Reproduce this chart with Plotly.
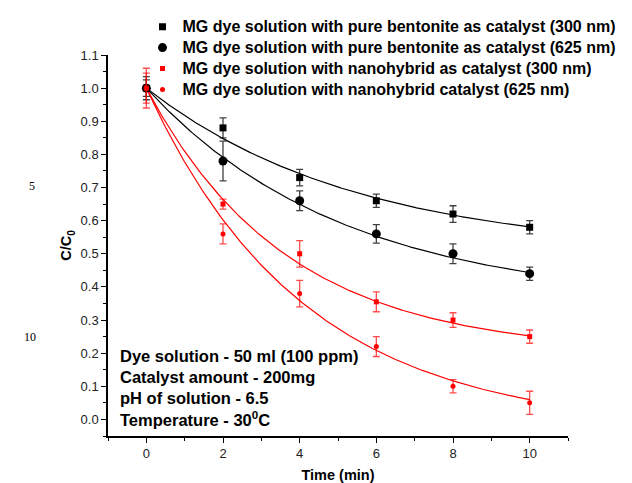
import numpy as np
import plotly.graph_objects as go

# Sampling times (min)
time_min = [0, 2, 4, 6, 8, 10]

# Normalised concentration C/C0 and error bars for each run
bent_300 = [1.00, 0.88, 0.73, 0.66, 0.62, 0.58]
bent_300_err = [0.035, 0.03, 0.025, 0.02, 0.025, 0.02]

bent_625 = [1.00, 0.78, 0.66, 0.56, 0.50, 0.44]
bent_625_err = [0.025, 0.06, 0.03, 0.028, 0.03, 0.02]

nano_300 = [1.00, 0.65, 0.50, 0.355, 0.30, 0.25]
nano_300_err = [0.06, 0.015, 0.04, 0.03, 0.022, 0.02]

nano_625 = [1.00, 0.56, 0.38, 0.22, 0.10, 0.05]
nano_625_err = [0.045, 0.03, 0.04, 0.03, 0.02, 0.035]

# First-order exponential decay fits: y = y0 + A*exp(-t/tau)
fit_y0 = [0.50, 0.35, 0.20, -0.03]
fit_A = [0.50, 0.65, 0.80, 1.03]
fit_tau = [5.5, 5.15, 3.67, 4.1]

legend_names = [
    "MG dye solution with pure bentonite as catalyst (300 nm)",
    "MG dye solution with pure bentonite as catalyst (625 nm)",
    "MG dye solution with nanohybrid as catalyst (300 nm)",
    "MG dye solution with nanohybrid catalyst (625 nm)",
]

conditions = [
    "Dye solution - 50 ml (100 ppm)",
    "Catalyst amount - 200mg",
    "pH of solution - 6.5",
    "Temperature - 30<sup>0</sup>C",
]

series = [bent_300, bent_625, nano_300, nano_625]
errors = [bent_300_err, bent_625_err, nano_300_err, nano_625_err]
colors = ["black", "black", "red", "red"]
err_colors = ["rgba(0,0,0,0.75)", "rgba(0,0,0,0.75)", "rgba(255,0,0,0.7)", "rgba(255,0,0,0.7)"]
symbols = ["square", "circle", "square", "circle"]
sizes = [7, 9, 5, 5]

FONT = "Liberation Sans, Arial, sans-serif"

fig = go.Figure()

t_fit = np.linspace(0, 10, 201)
for i in range(4):
    fig.add_trace(go.Scatter(
        x=t_fit, y=fit_y0[i] + fit_A[i] * np.exp(-t_fit / fit_tau[i]),
        mode="lines", line=dict(color=colors[i], width=1.2),
        showlegend=False, hoverinfo="skip",
    ))

for i in range(4):
    fig.add_trace(go.Scatter(
        x=time_min, y=series[i], mode="markers",
        # larger label text on a tighter legend row pitch
        name='<span style="font-size:16px">' + legend_names[i] + "</span>",
        marker=dict(symbol=symbols[i], size=sizes[i], color=colors[i]),
        error_y=dict(type="data", array=errors[i], visible=True,
                     color=err_colors[i], thickness=1.3, width=3.5),
    ))

axis_common = dict(
    showline=True, linecolor="black", linewidth=1.5,
    ticks="outside", ticklen=5, tickwidth=1.2, tickcolor="black",
    showgrid=False, zeroline=False, mirror=False,
    tickfont=dict(family=FONT, size=13, color="#222"),
)

fig.update_xaxes(
    range=[-1, 11], tickvals=[0, 2, 4, 6, 8, 10],
    minor=dict(tickvals=[-1, 1, 3, 5, 7, 9, 11], ticks="outside", ticklen=3,
               tickwidth=1.2, tickcolor="black"),
    title=dict(text="Time (min)", font=dict(family=FONT, size=14.5, color="black", weight="bold"),
               standoff=14),
    **axis_common,
)
fig.update_yaxes(
    range=[-0.05, 1.1], tickvals=[round(0.1 * k, 1) for k in range(12)],
    tickformat=".1f",
    minor=dict(tickvals=[round(0.05 + 0.1 * k, 2) for k in range(-1, 11)], ticks="outside",
               ticklen=3, tickwidth=1.2, tickcolor="black"),
    title=dict(text="C/C<sub>0</sub>", font=dict(family=FONT, size=14.5, color="black", weight="bold"),
               standoff=5),
    **axis_common,
)

annotations = []
for k, line in enumerate(conditions):
    annotations.append(dict(
        xref="paper", yref="paper", x=0.022, y=(436 - 356 - 21 * k) / 381,
        xanchor="left", yanchor="middle", showarrow=False, text=line,
        font=dict(family=FONT, size=16.5, color="black", weight="bold"),
    ))

# manuscript line numbers in the left margin
for txt, px, py in [("5", 32, 186), ("10", 30, 337)]:
    annotations.append(dict(
        xref="paper", yref="paper", x=(px - 108) / 459, y=(436 - py) / 381,
        xanchor="center", yanchor="middle", showarrow=False, text=txt,
        font=dict(family="Liberation Serif, Times New Roman, serif", size=12, color="black"),
    ))

fig.update_layout(
    width=632, height=483,
    margin=dict(l=108, r=64, t=55, b=47, autoexpand=False),
    paper_bgcolor="white", plot_bgcolor="white",
    showlegend=True,
    legend=dict(
        x=0.075, y=1.115, xanchor="left", yanchor="top",
        bgcolor="rgba(0,0,0,0)", borderwidth=0,
        font=dict(family=FONT, size=13.8, color="black", weight="bold"),
        tracegroupgap=0, itemsizing="trace",
    ),
    annotations=annotations,
)

fig.write_html("out.html")
